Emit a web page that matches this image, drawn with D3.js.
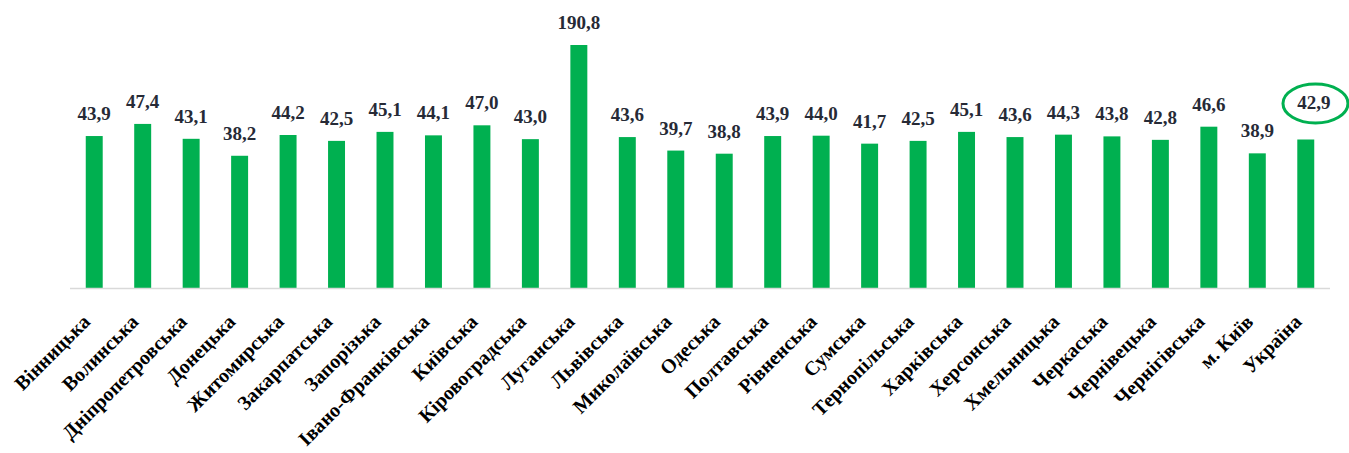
<!DOCTYPE html>
<html><head><meta charset="utf-8">
<script src="https://cdn.jsdelivr.net/npm/d3@7"></script>
<style>body{margin:0;background:#fff}</style>
</head><body>
<svg id="c" width="1349" height="453"></svg>
<script>
const categories = ["Вінницька","Волинська","Дніпропетровська","Донецька","Житомирська","Закарпатська","Запорізька","Івано-Франківська","Київська","Кіровоградська","Луганська","Львівська","Миколаївська","Одеська","Полтавська","Рівненська","Сумська","Тернопільська","Харківська","Херсонська","Хмельницька","Черкаська","Чернівецька","Чернігівська","м. Київ","Україна"];
const values = [43.9,47.4,43.1,38.2,44.2,42.5,45.1,44.1,47.0,43.0,190.8,43.6,39.7,38.8,43.9,44.0,41.7,42.5,45.1,43.6,44.3,43.8,42.8,46.6,38.9,42.9];
const highlighted = ["Україна"];

const svg = d3.select("#c");
const green = "#00b050";
const serif = '"Liberation Serif", "Times New Roman", serif';
const x = d3.scaleBand().domain(categories).range([70,1330]).paddingInner(0.65).paddingOuter(0.325);
const y = d3.scaleLinear().domain([0,70.2]).range([288,45]).clamp(true);
const data = categories.map((c,i)=>({c, v:values[i]}));
const fmt = v => d3.format(".1f")(v).replace(".", ",");
const cx = d => x(d.c)+x.bandwidth()/2;

svg.append("g").selectAll("rect").data(data).join("rect")
  .attr("x", d=>x(d.c)).attr("width", x.bandwidth())
  .attr("y", d=>y(d.v)).attr("height", d=>288-y(d.v))
  .attr("fill", green);

svg.append("line").attr("x1",70).attr("x2",1330).attr("y1",288.5).attr("y2",288.5)
  .attr("stroke","#d9d9d9").attr("stroke-width",1.5);

svg.append("g").selectAll("text").data(data).join("text")
  .attr("x", d=>cx(d) + (highlighted.includes(d.c)?8:0))
  .attr("y", d=>y(d.v) - (highlighted.includes(d.c)?30.5:16))
  .attr("text-anchor","middle")
  .style("font-family",serif)
  .style("font-weight","bold").style("font-size","19px").attr("fill","#262a36")
  .text(d=>fmt(d.v));

data.filter(d=>highlighted.includes(d.c)).forEach(d=>{
  svg.append("ellipse").attr("cx", cx(d)+9.7).attr("cy", y(d.v)-36)
    .attr("rx",32.5).attr("ry",19.5).attr("fill","none").attr("stroke",green).attr("stroke-width",3);
});

svg.append("g").selectAll("text").data(data).join("text")
  .attr("transform", d=>`translate(${cx(d)-3},${323}) rotate(-45)`)
  .attr("text-anchor","end")
  .style("font-family",serif)
  .style("font-weight","bold").style("font-size","20px").attr("fill","#000")
  .text(d=>d.c);
</script>
</body></html>
